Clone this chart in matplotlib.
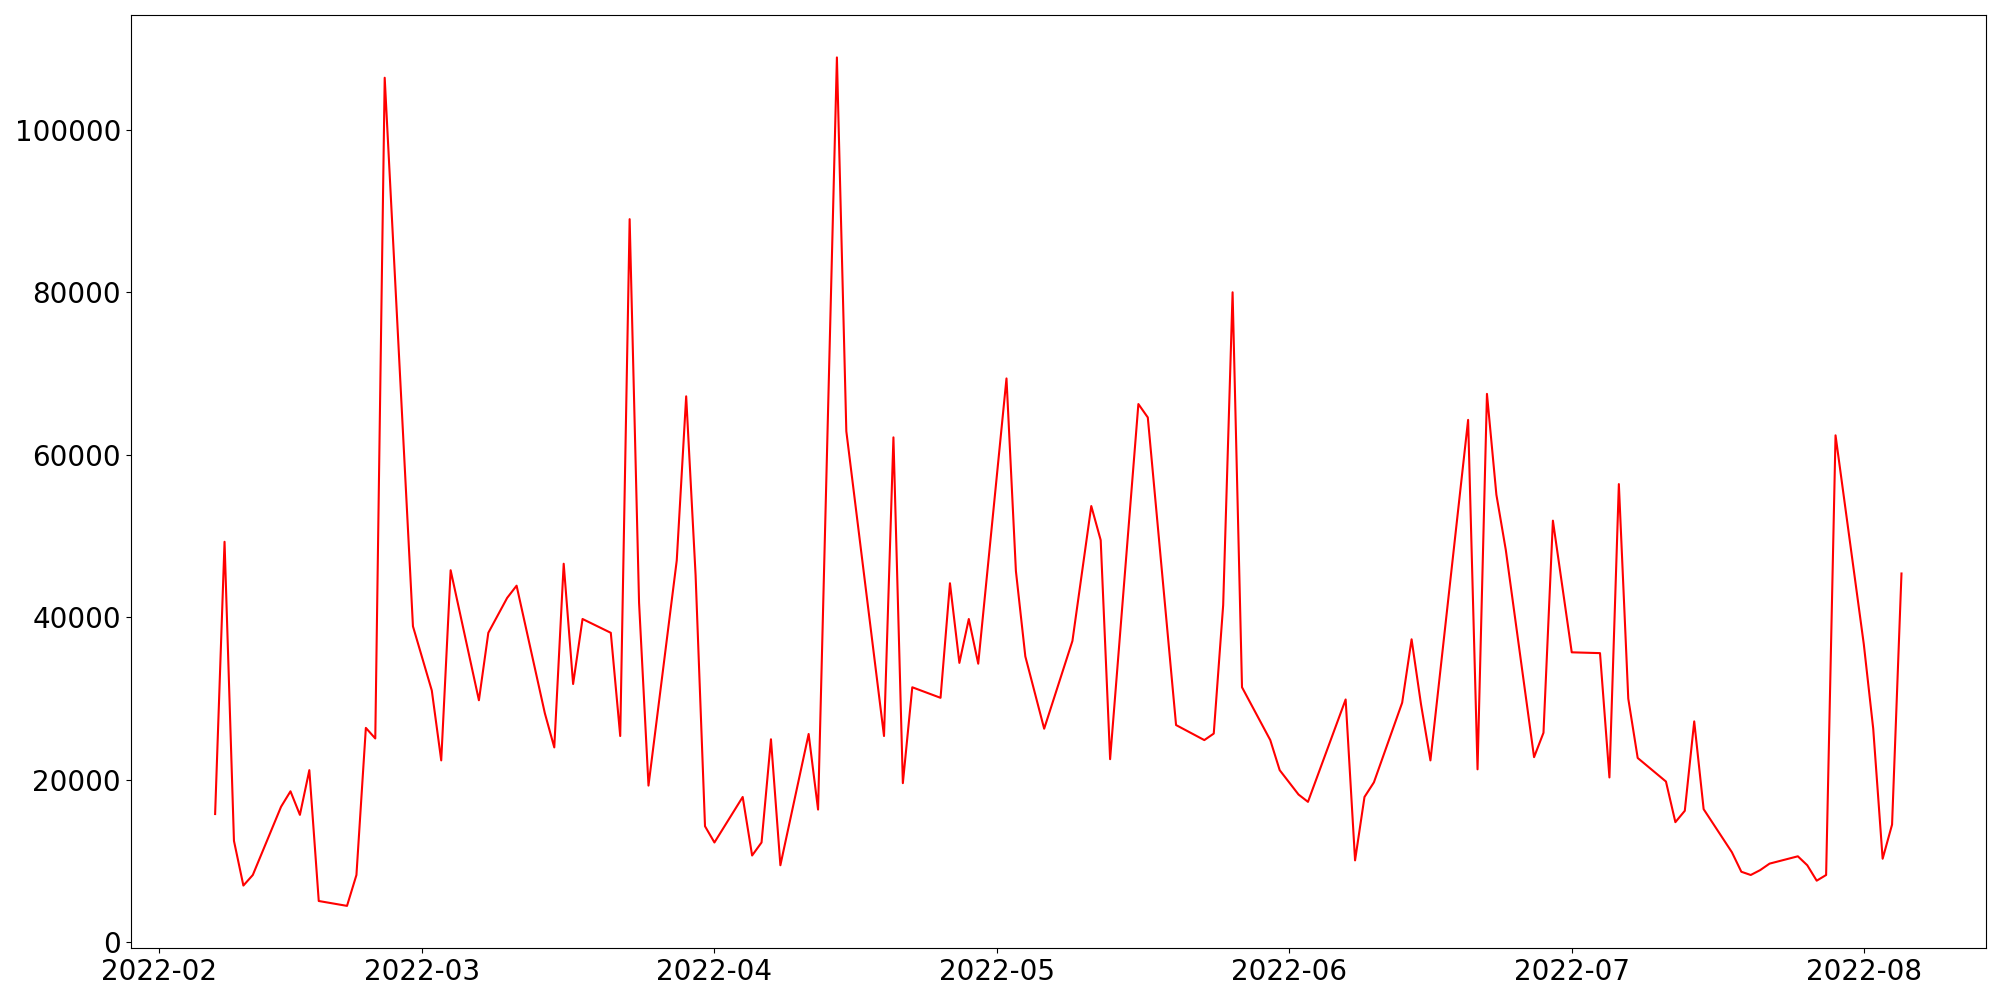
import matplotlib
matplotlib.use("Agg")
import matplotlib.pyplot as plt
import matplotlib.dates as mdates
import pandas as pd

dates = [
    "2022-02-07", "2022-02-08", "2022-02-09", "2022-02-10", "2022-02-11",
    "2022-02-14", "2022-02-15", "2022-02-16", "2022-02-17", "2022-02-18",
    "2022-02-21", "2022-02-22", "2022-02-23", "2022-02-24", "2022-02-25",
    "2022-02-28", "2022-03-02", "2022-03-03", "2022-03-04",
    "2022-03-07", "2022-03-08", "2022-03-10", "2022-03-11",
    "2022-03-14", "2022-03-15", "2022-03-16", "2022-03-17", "2022-03-18",
    "2022-03-21", "2022-03-22", "2022-03-23", "2022-03-24", "2022-03-25",
    "2022-03-28", "2022-03-29", "2022-03-30", "2022-03-31", "2022-04-01",
    "2022-04-04", "2022-04-05", "2022-04-06", "2022-04-07", "2022-04-08",
    "2022-04-11", "2022-04-12", "2022-04-14", "2022-04-15",
    "2022-04-19", "2022-04-20", "2022-04-21", "2022-04-22",
    "2022-04-25", "2022-04-26", "2022-04-27", "2022-04-28", "2022-04-29",
    "2022-05-02", "2022-05-03", "2022-05-04", "2022-05-06",
    "2022-05-09", "2022-05-11", "2022-05-12", "2022-05-13",
    "2022-05-16", "2022-05-17", "2022-05-20",
    "2022-05-23", "2022-05-24", "2022-05-25", "2022-05-26", "2022-05-27",
    "2022-05-30", "2022-05-31", "2022-06-02", "2022-06-03",
    "2022-06-07", "2022-06-08", "2022-06-09", "2022-06-10",
    "2022-06-13", "2022-06-14", "2022-06-15", "2022-06-16",
    "2022-06-20", "2022-06-21", "2022-06-22", "2022-06-23", "2022-06-24",
    "2022-06-27", "2022-06-28", "2022-06-29", "2022-07-01",
    "2022-07-04", "2022-07-05", "2022-07-06", "2022-07-07", "2022-07-08",
    "2022-07-11", "2022-07-12", "2022-07-13", "2022-07-14", "2022-07-15",
    "2022-07-18", "2022-07-19", "2022-07-20", "2022-07-21", "2022-07-22",
    "2022-07-25", "2022-07-26", "2022-07-27", "2022-07-28", "2022-07-29",
    "2022-08-01", "2022-08-02", "2022-08-03", "2022-08-04", "2022-08-05",
]

values = [
    15800, 49300, 12500, 7000, 8300,
    16700, 18600, 15700, 21200, 5100,
    4500, 8300, 26400, 25100, 106400,
    38900, 31000, 22400, 45800,
    29800, 38100, 42400, 43900,
    28200, 24000, 46600, 31800, 39800,
    38100, 25400, 89000, 41800, 19300,
    47000, 67200, 45200, 14300, 12300,
    17900, 10700, 12300, 25000, 9500,
    25650, 16350, 108900, 62900,
    25400, 62150, 19600, 31400,
    30100, 44200, 34400, 39800, 34300,
    69400, 45700, 35200, 26300,
    37100, 53700, 49500, 22550,
    66250, 64600, 26750,
    24900, 25700, 41500, 80000, 31400,
    24900, 21200, 18200, 17300,
    29900, 10100, 17900, 19700,
    29500, 37300, 29300, 22400,
    64300, 21300, 67500, 55100, 48300,
    22800, 25800, 51900, 35700,
    35600, 20300, 56400, 30000, 22700,
    19800, 14800, 16200, 27200, 16400,
    11100, 8700, 8300, 8900, 9700,
    10600, 9500, 7600, 8300, 62400,
    36700, 26300, 10300, 14500, 45400,
]

x = pd.to_datetime(dates)

fig = plt.figure(figsize=(20, 10), dpi=100)
ax = fig.add_axes([0.0654, 0.0517, 0.9275, 0.9333])
ax.plot(x, values, color="red", linewidth=1.5)

ax.xaxis.set_major_locator(mdates.MonthLocator())
ax.xaxis.set_major_formatter(mdates.DateFormatter("%Y-%m"))
ax.tick_params(axis="both", labelsize=20)

fig.savefig("out.png", dpi=100)
